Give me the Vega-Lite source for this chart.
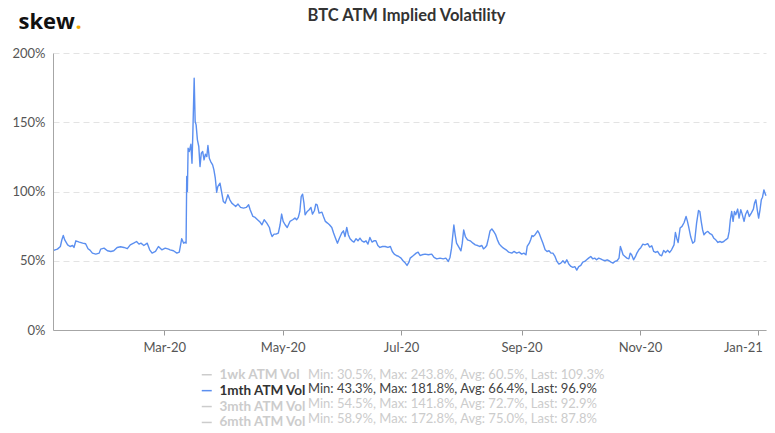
{
  "$schema": "https://vega.github.io/schema/vega-lite/v6.json",
  "width": 713,
  "height": 277,
  "autosize": {"type": "none"},
  "padding": {"left": 53, "top": 53, "right": 9, "bottom": 103},
  "background": "white",
  "config": {"font": "Lato", "view": {"stroke": null}},
  "title": {"text": "BTC ATM Implied Volatility", "font": "Lato", "fontSize": 16.5, "fontWeight": "bold", "color": "#333333", "anchor": "middle", "offset": -14, "dx": -3},
  "layer": [
    {
      "data": {"values": [
        {"t":"2020-01-04T05:00","v":57.5},{"t":"2020-01-04T18:00","v":57.9},{"t":"2020-01-06T00:00","v":58.4},{"t":"2020-01-07T12:00","v":60.3},{"t":"2020-01-08T06:00","v":65},{"t":"2020-01-09T00:00","v":68.3},{"t":"2020-01-09T18:00","v":65},{"t":"2020-01-11T06:00","v":61.5},{"t":"2020-01-12T12:00","v":60.3},{"t":"2020-01-13T18:00","v":61},{"t":"2020-01-14T12:00","v":59.6},{"t":"2020-01-15T12:00","v":64.4},{"t":"2020-01-17T06:00","v":63.5},{"t":"2020-01-19T00:00","v":62.7},{"t":"2020-01-20T12:00","v":62.3},{"t":"2020-01-21T18:00","v":58.7},{"t":"2020-01-22T18:00","v":57.7},{"t":"2020-01-24T00:00","v":55.5},{"t":"2020-01-25T18:00","v":54.8},{"t":"2020-01-27T12:00","v":55.5},{"t":"2020-01-28T06:00","v":58.4},{"t":"2020-01-30T00:00","v":59.1},{"t":"2020-01-31T18:00","v":57.2},
        {"t":"2020-02-02T12:00","v":56.7},{"t":"2020-02-04T00:00","v":57.2},{"t":"2020-02-05T18:00","v":59.6},{"t":"2020-02-07T12:00","v":60.1},{"t":"2020-02-09T06:00","v":59.6},{"t":"2020-02-11T00:00","v":58.7},{"t":"2020-02-12T12:00","v":61.5},{"t":"2020-02-14T06:00","v":62.7},{"t":"2020-02-15T18:00","v":63.9},{"t":"2020-02-17T00:00","v":62},{"t":"2020-02-18T00:00","v":62.7},{"t":"2020-02-19T12:00","v":61},{"t":"2020-02-21T06:00","v":62.7},{"t":"2020-02-22T12:00","v":57.9},{"t":"2020-02-23T18:00","v":55.5},{"t":"2020-02-25T12:00","v":56.7},{"t":"2020-02-27T00:00","v":60.3},{"t":"2020-02-28T18:00","v":57.9},
        {"t":"2020-03-01T12:00","v":59.1},{"t":"2020-03-03T06:00","v":58.4},{"t":"2020-03-04T00:00","v":57.9},{"t":"2020-03-05T18:00","v":57.2},{"t":"2020-03-07T12:00","v":55.5},{"t":"2020-03-08T18:00","v":56.3},{"t":"2020-03-10T00:00","v":65.9},{"t":"2020-03-11T00:00","v":62.7},{"t":"2020-03-11T22:00","v":63.5},{"t":"2020-03-12T06:00","v":62.7},{"t":"2020-03-12T14:00","v":110.8},{"t":"2020-03-12T22:00","v":100},{"t":"2020-03-13T07:00","v":131.3},{"t":"2020-03-13T22:00","v":128.9},{"t":"2020-03-14T17:00","v":134.1},{"t":"2020-03-15T07:00","v":120.4},{"t":"2020-03-15T17:00","v":140.9},{"t":"2020-03-16T10:00","v":181.8},{"t":"2020-03-16T22:00","v":150.5},{"t":"2020-03-17T10:00","v":148.1},{"t":"2020-03-18T02:00","v":137.3},{"t":"2020-03-18T19:00","v":132.5},{"t":"2020-03-19T10:00","v":118},{"t":"2020-03-20T02:00","v":127.6},{"t":"2020-03-20T19:00","v":128.9},{"t":"2020-03-21T12:00","v":122.8},{"t":"2020-03-22T05:00","v":126.9},{"t":"2020-03-22T22:00","v":125.2},{"t":"2020-03-23T12:00","v":133.2},{"t":"2020-03-24T05:00","v":124},{"t":"2020-03-24T22:00","v":121.6},{"t":"2020-03-25T22:00","v":119.2},{"t":"2020-03-26T14:00","v":115.6},{"t":"2020-03-27T07:00","v":109.6},{"t":"2020-03-28T00:00","v":99.5},{"t":"2020-03-28T14:00","v":103.6},{"t":"2020-03-29T17:00","v":106},{"t":"2020-03-30T12:00","v":100},{"t":"2020-03-31T10:00","v":92.8},
        {"t":"2020-04-01T10:00","v":91.6},{"t":"2020-04-02T19:00","v":97.6},{"t":"2020-04-03T19:00","v":94},{"t":"2020-04-04T19:00","v":91.6},{"t":"2020-04-05T19:00","v":90.4},{"t":"2020-04-06T19:00","v":89.2},{"t":"2020-04-08T00:00","v":90.9},{"t":"2020-04-09T07:00","v":88.5},{"t":"2020-04-10T20:00","v":88},{"t":"2020-04-12T06:00","v":88.5},{"t":"2020-04-13T11:00","v":90.4},{"t":"2020-04-14T06:00","v":86.8},{"t":"2020-04-15T16:00","v":82},{"t":"2020-04-16T20:00","v":81.3},{"t":"2020-04-18T01:00","v":79.6},{"t":"2020-04-19T08:00","v":77.9},{"t":"2020-04-20T08:00","v":76},{"t":"2020-04-21T11:00","v":79.6},{"t":"2020-04-22T20:00","v":77.2},{"t":"2020-04-24T04:00","v":74},{"t":"2020-04-24T20:00","v":70},{"t":"2020-04-25T13:00","v":67.5},{"t":"2020-04-26T13:00","v":69.2},{"t":"2020-04-27T13:00","v":69.2},{"t":"2020-04-28T18:00","v":70},{"t":"2020-04-29T16:00","v":76},{"t":"2020-04-30T11:00","v":83.7},
        {"t":"2020-05-01T06:00","v":78.4},{"t":"2020-05-02T06:00","v":76},{"t":"2020-05-03T08:00","v":74},{"t":"2020-05-04T18:00","v":78.4},{"t":"2020-05-06T04:00","v":79.6},{"t":"2020-05-07T08:00","v":80.8},{"t":"2020-05-08T04:00","v":79.6},{"t":"2020-05-09T01:00","v":81.3},{"t":"2020-05-09T20:00","v":85.6},{"t":"2020-05-10T13:00","v":96.4},{"t":"2020-05-11T06:00","v":98.1},{"t":"2020-05-11T23:00","v":91.6},{"t":"2020-05-12T13:00","v":83.2},{"t":"2020-05-13T16:00","v":85.6},{"t":"2020-05-14T16:00","v":86.8},{"t":"2020-05-15T13:00","v":88.5},{"t":"2020-05-16T08:00","v":83.7},{"t":"2020-05-17T08:00","v":86.1},{"t":"2020-05-18T01:00","v":90.9},{"t":"2020-05-18T18:00","v":90.4},{"t":"2020-05-19T18:00","v":84.4},{"t":"2020-05-21T05:00","v":85.1},{"t":"2020-05-22T00:00","v":82},{"t":"2020-05-23T00:00","v":78.4},{"t":"2020-05-24T02:00","v":77.2},{"t":"2020-05-25T02:00","v":76},{"t":"2020-05-26T07:00","v":74},{"t":"2020-05-27T05:00","v":70},{"t":"2020-05-28T05:00","v":66.3},{"t":"2020-05-29T05:00","v":62.7},{"t":"2020-05-30T05:00","v":66.3},{"t":"2020-05-31T10:00","v":70},
        {"t":"2020-06-01T07:00","v":71.6},{"t":"2020-06-02T02:00","v":67.5},{"t":"2020-06-03T00:00","v":74},{"t":"2020-06-03T19:00","v":68.8},{"t":"2020-06-04T17:00","v":65.9},{"t":"2020-06-05T17:00","v":64.4},{"t":"2020-06-06T17:00","v":63.5},{"t":"2020-06-07T19:00","v":65.9},{"t":"2020-06-08T19:00","v":64.4},{"t":"2020-06-09T19:00","v":66.3},{"t":"2020-06-10T19:00","v":64.4},{"t":"2020-06-11T22:00","v":63.5},{"t":"2020-06-12T22:00","v":64.4},{"t":"2020-06-13T22:00","v":62},{"t":"2020-06-14T22:00","v":66.8},{"t":"2020-06-16T00:00","v":63.5},{"t":"2020-06-17T00:00","v":64.4},{"t":"2020-06-18T00:00","v":64.4},{"t":"2020-06-19T00:00","v":61},{"t":"2020-06-20T02:00","v":59.6},{"t":"2020-06-21T10:00","v":60.3},{"t":"2020-06-22T19:00","v":60.3},{"t":"2020-06-24T05:00","v":59.6},{"t":"2020-06-25T11:00","v":60.3},{"t":"2020-06-26T11:00","v":56.7},{"t":"2020-06-27T11:00","v":54.8},{"t":"2020-06-28T13:00","v":53.8},{"t":"2020-06-29T18:00","v":53.1},{"t":"2020-06-30T23:00","v":51.9},
        {"t":"2020-07-01T23:00","v":50},{"t":"2020-07-03T04:00","v":48.3},{"t":"2020-07-04T01:00","v":46.6},{"t":"2020-07-05T01:00","v":49},{"t":"2020-07-05T16:00","v":51.9},{"t":"2020-07-07T08:00","v":53.8},{"t":"2020-07-08T18:00","v":55.5},{"t":"2020-07-09T18:00","v":56.2},{"t":"2020-07-10T18:00","v":53.8},{"t":"2020-07-11T18:00","v":54.3},{"t":"2020-07-13T08:00","v":54.8},{"t":"2020-07-15T01:00","v":54.3},{"t":"2020-07-16T18:00","v":54.8},{"t":"2020-07-17T23:00","v":52.4},{"t":"2020-07-19T08:00","v":51.4},{"t":"2020-07-21T01:00","v":51.9},{"t":"2020-07-22T16:00","v":51.4},{"t":"2020-07-24T01:00","v":51.9},{"t":"2020-07-25T06:00","v":49.5},{"t":"2020-07-26T04:00","v":52.4},{"t":"2020-07-26T23:00","v":59.1},{"t":"2020-07-27T11:00","v":66.3},{"t":"2020-07-28T04:00","v":75.8},{"t":"2020-07-28T20:00","v":68.7},{"t":"2020-07-29T13:00","v":62.7},{"t":"2020-07-30T19:00","v":59.6},{"t":"2020-07-31T19:00","v":57.2},
        {"t":"2020-08-01T12:00","v":62.7},{"t":"2020-08-02T05:00","v":72.2},{"t":"2020-08-03T02:00","v":67.5},{"t":"2020-08-04T05:00","v":65.1},{"t":"2020-08-05T14:00","v":64.4},{"t":"2020-08-07T00:00","v":62.7},{"t":"2020-08-08T05:00","v":61.5},{"t":"2020-08-09T10:00","v":61},{"t":"2020-08-10T10:00","v":60.3},{"t":"2020-08-11T14:00","v":61},{"t":"2020-08-12T10:00","v":58.6},{"t":"2020-08-13T07:00","v":59.6},{"t":"2020-08-14T02:00","v":61},{"t":"2020-08-15T00:00","v":66.3},{"t":"2020-08-15T19:00","v":71.5},{"t":"2020-08-16T17:00","v":73},{"t":"2020-08-17T12:00","v":71.5},{"t":"2020-08-18T14:00","v":69.1},{"t":"2020-08-19T14:00","v":65.1},{"t":"2020-08-20T14:00","v":62},{"t":"2020-08-21T17:00","v":60.3},{"t":"2020-08-22T17:00","v":59.1},{"t":"2020-08-24T02:00","v":57.9},{"t":"2020-08-25T10:00","v":56.2},{"t":"2020-08-27T00:00","v":55.5},{"t":"2020-08-28T02:00","v":56.7},{"t":"2020-08-29T12:00","v":55.5},{"t":"2020-08-30T19:00","v":56.2},
        {"t":"2020-09-01T02:00","v":54.8},{"t":"2020-09-02T05:00","v":55.5},{"t":"2020-09-03T07:00","v":54.3},{"t":"2020-09-03T22:00","v":60.3},{"t":"2020-09-05T00:00","v":62.7},{"t":"2020-09-05T17:00","v":65.1},{"t":"2020-09-06T10:00","v":68.2},{"t":"2020-09-07T00:00","v":67.5},{"t":"2020-09-08T00:00","v":68.8},{"t":"2020-09-09T08:00","v":71.6},{"t":"2020-09-10T01:00","v":70},{"t":"2020-09-11T01:00","v":66.3},{"t":"2020-09-12T01:00","v":62.7},{"t":"2020-09-13T04:00","v":57.9},{"t":"2020-09-14T04:00","v":56.7},{"t":"2020-09-15T04:00","v":57.2},{"t":"2020-09-16T04:00","v":55.5},{"t":"2020-09-17T04:00","v":55.5},{"t":"2020-09-18T06:00","v":53.1},{"t":"2020-09-19T06:00","v":49.5},{"t":"2020-09-20T06:00","v":47.6},{"t":"2020-09-21T06:00","v":48.3},{"t":"2020-09-22T08:00","v":50},{"t":"2020-09-23T08:00","v":48.3},{"t":"2020-09-24T08:00","v":50.7},{"t":"2020-09-25T08:00","v":47.6},{"t":"2020-09-26T11:00","v":45.9},{"t":"2020-09-27T11:00","v":45.2},{"t":"2020-09-28T11:00","v":45.7},{"t":"2020-09-29T11:00","v":43.3},{"t":"2020-09-30T11:00","v":45.7},
        {"t":"2020-10-01T13:00","v":46.6},{"t":"2020-10-02T13:00","v":49},{"t":"2020-10-03T13:00","v":49.5},{"t":"2020-10-04T13:00","v":50.7},{"t":"2020-10-05T13:00","v":51.9},{"t":"2020-10-06T16:00","v":53.1},{"t":"2020-10-07T16:00","v":51.4},{"t":"2020-10-08T16:00","v":51.9},{"t":"2020-10-09T16:00","v":50.7},{"t":"2020-10-10T18:00","v":51.9},{"t":"2020-10-11T18:00","v":51.4},{"t":"2020-10-12T18:00","v":50.7},{"t":"2020-10-14T00:00","v":50},{"t":"2020-10-15T02:00","v":50.7},{"t":"2020-10-16T02:00","v":50},{"t":"2020-10-17T02:00","v":49},{"t":"2020-10-18T02:00","v":48.3},{"t":"2020-10-19T02:00","v":49.5},{"t":"2020-10-20T05:00","v":50},{"t":"2020-10-21T05:00","v":51.9},{"t":"2020-10-21T22:00","v":60.3},{"t":"2020-10-22T12:00","v":57.9},{"t":"2020-10-23T07:00","v":54.3},{"t":"2020-10-24T07:00","v":53.1},{"t":"2020-10-25T07:00","v":51.9},{"t":"2020-10-26T07:00","v":51.4},{"t":"2020-10-27T00:00","v":55.5},{"t":"2020-10-27T17:00","v":54.3},{"t":"2020-10-28T17:00","v":50.7},{"t":"2020-10-29T17:00","v":53.1},{"t":"2020-10-30T10:00","v":55.5},{"t":"2020-10-31T10:00","v":57.9},
        {"t":"2020-11-01T12:00","v":59.6},{"t":"2020-11-02T12:00","v":62},{"t":"2020-11-03T14:00","v":61.5},{"t":"2020-11-05T00:00","v":62.3},{"t":"2020-11-06T00:00","v":59.9},{"t":"2020-11-07T02:00","v":60.8},{"t":"2020-11-08T02:00","v":56.7},{"t":"2020-11-09T02:00","v":56},{"t":"2020-11-10T02:00","v":56.7},{"t":"2020-11-11T05:00","v":54.3},{"t":"2020-11-12T05:00","v":53.6},{"t":"2020-11-13T05:00","v":57.5},{"t":"2020-11-14T05:00","v":56},{"t":"2020-11-15T05:00","v":57.5},{"t":"2020-11-16T07:00","v":56},{"t":"2020-11-17T07:00","v":57.9},{"t":"2020-11-18T13:00","v":61.5},{"t":"2020-11-19T06:00","v":70.4},{"t":"2020-11-19T23:00","v":66.3},{"t":"2020-11-20T16:00","v":63.2},{"t":"2020-11-21T16:00","v":73.6},{"t":"2020-11-22T16:00","v":74.8},{"t":"2020-11-23T18:00","v":77.6},{"t":"2020-11-24T18:00","v":82},{"t":"2020-11-25T11:00","v":78.4},{"t":"2020-11-26T01:00","v":74.8},{"t":"2020-11-27T04:00","v":67.1},{"t":"2020-11-28T04:00","v":62.7},{"t":"2020-11-29T04:00","v":63.9},{"t":"2020-11-30T04:00","v":77.2},
        {"t":"2020-12-01T04:00","v":86.3},{"t":"2020-12-01T20:00","v":85.6},{"t":"2020-12-02T13:00","v":78.4},{"t":"2020-12-03T06:00","v":72.4},{"t":"2020-12-03T23:00","v":68.8},{"t":"2020-12-04T23:00","v":70.4},{"t":"2020-12-05T23:00","v":71.2},{"t":"2020-12-07T01:00","v":69.5},{"t":"2020-12-08T01:00","v":68.8},{"t":"2020-12-09T01:00","v":66.3},{"t":"2020-12-10T01:00","v":65.1},{"t":"2020-12-11T04:00","v":63.2},{"t":"2020-12-12T04:00","v":63.9},{"t":"2020-12-13T04:00","v":63.2},{"t":"2020-12-14T04:00","v":63.9},{"t":"2020-12-15T04:00","v":65.1},{"t":"2020-12-16T06:00","v":66.3},{"t":"2020-12-16T23:00","v":71.2},{"t":"2020-12-17T13:00","v":79.6},{"t":"2020-12-18T06:00","v":85.6},{"t":"2020-12-18T23:00","v":78.4},{"t":"2020-12-19T16:00","v":85.6},{"t":"2020-12-20T08:00","v":83.2},{"t":"2020-12-21T08:00","v":87.3},{"t":"2020-12-22T01:00","v":80.8},{"t":"2020-12-22T22:00","v":86.8},{"t":"2020-12-23T12:00","v":84.4},{"t":"2020-12-24T15:00","v":78.4},{"t":"2020-12-25T08:00","v":83.2},{"t":"2020-12-26T08:00","v":86.3},{"t":"2020-12-27T08:00","v":82},{"t":"2020-12-28T08:00","v":84.4},{"t":"2020-12-29T10:00","v":87.3},{"t":"2020-12-30T00:00","v":91.6},{"t":"2020-12-30T17:00","v":94},{"t":"2020-12-31T10:00","v":86.8},
        {"t":"2021-01-01T03:00","v":80.8},{"t":"2021-01-01T20:00","v":86.8},{"t":"2021-01-02T12:00","v":94},{"t":"2021-01-03T03:00","v":95.9},{"t":"2021-01-03T20:00","v":101.2},{"t":"2021-01-04T12:00","v":98.3},{"t":"2021-01-04T22:00","v":96.9}
      ]},
      "mark": {"type": "line", "strokeWidth": 1.4, "strokeJoin": "round"},
      "encoding": {
        "x": {
          "field": "t", "type": "temporal",
          "scale": {"domain": [{"year": 2020, "month": 1, "date": 3, "hours": 17}, {"year": 2021, "month": 1, "date": 4, "hours": 22}]},
          "axis": {
            "title": ".", "titleColor": "#f2a900", "titleFont": "Open Sans", "titleFontSize": 22, "titleFontWeight": "bold",
            "titleX": 22, "titleY": -302, "titleAlign": "left", "titleBaseline": "alphabetic", "titleAngle": 0,
            "format": "%b-%y", "tickCount": {"interval": "month", "step": 2},
            "labelFont": "Lato", "labelFontSize": 13, "labelColor": "#555555", "labelPadding": 6,
            "labelFlush": 8, "labelFlushOffset": 4, "labelOverlap": false,
            "tickSize": 5, "tickColor": "#999999", "domainColor": "#a6a6a6", "grid": false
          }
        },
        "y": {
          "field": "v", "type": "quantitative",
          "scale": {"domain": [0, 200], "nice": false},
          "axis": {
            "title": "skew", "titleColor": "#111111", "titleFont": "Open Sans", "titleFontSize": 22, "titleFontWeight": "bold",
            "titleX": -35, "titleY": -25, "titleAlign": "left", "titleBaseline": "alphabetic", "titleAngle": 0,
            "values": [0, 50, 100, 150, 200], "labelExpr": "datum.value + '%'",
            "labelFont": "Lato", "labelFontSize": 13, "labelColor": "#555555", "labelPadding": 8,
            "ticks": false, "domainColor": "#a6a6a6",
            "grid": true, "gridColor": "#e3e3e3", "gridDash": [6, 4], "gridWidth": 1
          }
        },
        "color": {
          "datum": "1mth ATM Vol",
          "scale": {"domain": ["1wk ATM Vol", "1mth ATM Vol", "3mth ATM Vol", "6mth ATM Vol"], "range": ["#cccccc", "#5b8ff0", "#cccccc", "#cccccc"]},
          "legend": {
            "orient": "none", "legendX": 147, "legendY": 315, "title": null, "direction": "vertical",
            "symbolType": "stroke", "symbolSize": 100, "symbolStrokeWidth": 1.5,
            "labelFont": "Lato", "labelFontSize": 13.5, "labelFontWeight": "bold", "labelOffset": 6,
            "rowPadding": 0.9, "padding": 0,
            "labelColor": {"expr": "datum.label === '1mth ATM Vol' ? '#333333' : '#cccccc'"}
          }
        }
      }
    },
    {
      "data": {"values": [
        {"stats": "Min: 30.5%, Max: 243.8%, Avg: 60.5%, Last: 109.3%"},
        {"stats": "Min: 43.3%, Max: 181.8%, Avg: 66.4%, Last: 96.9%"},
        {"stats": "Min: 54.5%, Max: 141.8%, Avg: 72.7%, Last: 92.9%"},
        {"stats": "Min: 58.9%, Max: 172.8%, Avg: 75.0%, Last: 87.8%"}
      ]},
      "mark": {"type": "point", "opacity": 0},
      "encoding": {
        "shape": {
          "field": "stats", "type": "nominal",
          "scale": {"domain": ["Min: 30.5%, Max: 243.8%, Avg: 60.5%, Last: 109.3%", "Min: 43.3%, Max: 181.8%, Avg: 66.4%, Last: 96.9%", "Min: 54.5%, Max: 141.8%, Avg: 72.7%, Last: 92.9%", "Min: 58.9%, Max: 172.8%, Avg: 75.0%, Last: 87.8%"]},
          "legend": {
            "orient": "none", "legendX": 242, "legendY": 315, "title": null, "direction": "vertical",
            "symbolSize": 0, "symbolOpacity": 0, "symbolStrokeWidth": 0,
            "labelFont": "Lato", "labelFontSize": 13, "labelOffset": 0, "labelLimit": 500,
            "rowPadding": 0.9, "padding": 0,
            "labelColor": {"expr": "indexof(datum.label, '43.3%') >= 0 ? '#444444' : '#cccccc'"}
          }
        }
      }
    }
  ]
}
